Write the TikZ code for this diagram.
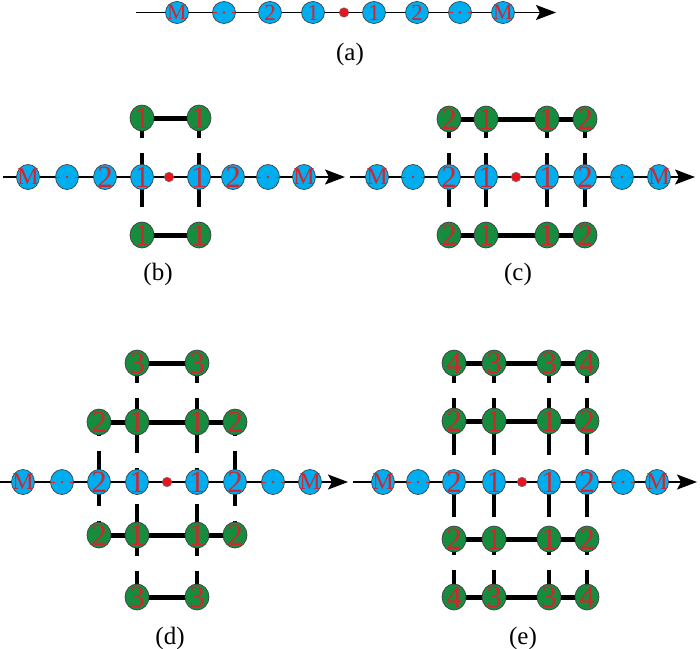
\documentclass[tikz,border=0pt]{standalone}
\usepackage{fontspec}
\usepackage{graphicx}
\setmainfont{Liberation Serif}
\usetikzlibrary{shapes.geometric,arrows.meta,backgrounds,calc}
\definecolor{cyanb}{RGB}{0,174,239}
\definecolor{greeng}{RGB}{22,140,62}
\definecolor{redt}{RGB}{215,35,45}
\definecolor{dotred}{RGB}{235,20,30}
\newcommand\Mlet{\scalebox{1.0}[1]{M}}
\tikzset{
  bnode/.style={ellipse, draw=black!75, line width=0.7pt, fill=cyanb,
    minimum width=23pt, minimum height=25pt, inner sep=0pt},
  gnode/.style={bnode, fill=greeng, minimum width=24pt, minimum height=26pt},
  dnode/.style={bnode, path picture={
    \fill[redt] (path picture bounding box.center) circle (1.4pt);
    \draw[redt, line width=1pt] (path picture bounding box.west) -- ++(4pt,0);
    \draw[redt, line width=1pt] (path picture bounding box.east) -- ++(-4pt,0);}},
  dig/.style={text=redt, font=\rmfamily\fontsize{31}{31}\selectfont, inner sep=0pt},
  mlet/.style={text=redt, font=\rmfamily\fontsize{24}{24}\selectfont, inner sep=0pt},
  rdot/.style={circle, draw=black!60, line width=0.5pt, fill=dotred,
    minimum size=9.5pt, inner sep=0pt},
  axisline/.style={line width=1.2pt, -{Stealth[length=20pt,width=15pt,inset=4pt]}},
  hbar/.style={line width=5pt},
  vbar/.style={line width=4pt},
  lab/.style={font=\rmfamily\fontsize{25}{25}\selectfont, inner sep=0pt},
  flat/.style={bnode/.append style={minimum height=22pt},
    dig/.append style={font=\rmfamily\fontsize{23}{23}\selectfont},
    mlet/.append style={font=\rmfamily\fontsize{22}{22}\selectfont}}
}
% axis row: #1 prefix, #2 y, #3 start x, #4 tip x, #5 nine x positions
\newcommand\axrow[5]{%
  \foreach \xx [count=\i] in {#5}{%
    \ifcase\i\or
      \node[bnode,label={[mlet]center:\Mlet}] (#1\i) at (\xx,#2) {};\or
      \node[dnode] (#1\i) at (\xx,#2) {};\or
      \node[bnode,label={[dig]center:2}] (#1\i) at (\xx,#2) {};\or
      \node[bnode,label={[dig]center:1}] (#1\i) at (\xx,#2) {};\or
      \node[rdot] (#1\i) at (\xx,#2) {};\or
      \node[bnode,label={[dig]center:1}] (#1\i) at (\xx,#2) {};\or
      \node[bnode,label={[dig]center:2}] (#1\i) at (\xx,#2) {};\or
      \node[dnode] (#1\i) at (\xx,#2) {};\or
      \node[bnode,label={[mlet]center:\Mlet}] (#1\i) at (\xx,#2) {};\fi}%
  \coordinate (#1s) at (#3,#2);
  \coordinate (#1t) at (#4,#2);
  \begin{scope}[on background layer]\draw[axisline] (#1s) -- (#1t);\end{scope}%
}
\newcommand\gn[4]{\node[gnode,label={[dig]center:#4}] (#1) at (#2,#3) {};}
\newcommand\hc[2]{\begin{scope}[on background layer]\draw[hbar] (#1.center) -- (#2.center);\end{scope}}
\newcommand\vc[3]{\begin{scope}[on background layer]
  \draw[vbar,shorten >=7.5pt] (#1.center) -- ($(#1.center)!#3!(#2.center)$);
  \draw[vbar,shorten >=7.5pt] (#2.center) -- ($(#1.center)!#3!(#2.center)$);
  \end{scope}}
\begin{document}
\begin{tikzpicture}[x=1pt,y=-1pt]
\useasboundingbox (0,0) rectangle (700,648);
% (a)
\begin{scope}[flat]
\axrow{a}{12.5}{136}{556}{177,224,270,313,344,374,417,460,503}
\end{scope}
\node[lab] (la) at (350,54) {(a)};
% (b)
\axrow{b}{177}{3}{345}{28,67,105,142,169,199,233,268,304}
\gn{bt1}{142}{118}{1}\gn{bt2}{199}{118}{1}
\gn{bb1}{142}{235}{1}\gn{bb2}{199}{235}{1}
\hc{bt1}{bt2}\hc{bb1}{bb2}
\vc{bt1}{b4}{0.46}\vc{bt2}{b6}{0.46}
\vc{b4}{bb1}{0.65}\vc{b6}{bb2}{0.65}
\node[lab] (lb) at (158,274) {(b)};
% (c)
\axrow{c}{177}{350}{695}{377,413,449,486,516,547,585,622,659}
\gn{ct1}{449}{119}{2}\gn{ct2}{486}{119}{1}\gn{ct3}{547}{119}{1}\gn{ct4}{585}{119}{2}
\gn{cb1}{449}{235}{2}\gn{cb2}{486}{235}{1}\gn{cb3}{547}{235}{1}\gn{cb4}{585}{235}{2}
\hc{ct1}{ct2}\hc{ct2}{ct3}\hc{ct3}{ct4}
\hc{cb1}{cb2}\hc{cb2}{cb3}\hc{cb3}{cb4}
\vc{ct1}{c3}{0.46}\vc{ct2}{c4}{0.46}\vc{ct3}{c6}{0.46}\vc{ct4}{c7}{0.46}
\vc{c3}{cb1}{0.65}\vc{c4}{cb2}{0.65}\vc{c6}{cb3}{0.65}\vc{c7}{cb4}{0.65}
\node[lab] (lc) at (518,274) {(c)};
% (d)
\axrow{d}{482}{0}{348}{23,62,99,137,167,197,235,273,310}
\gn{dA1}{137}{363}{3}\gn{dA2}{197}{363}{3}
\gn{dB1}{99}{422}{2}\gn{dB2}{137}{422}{1}\gn{dB3}{197}{422}{1}\gn{dB4}{235}{422}{2}
\gn{dC1}{99}{535}{2}\gn{dC2}{137}{535}{1}\gn{dC3}{197}{535}{1}\gn{dC4}{235}{535}{2}
\gn{dD1}{137}{597}{3}\gn{dD2}{197}{597}{3}
\hc{dA1}{dA2}\hc{dD1}{dD2}
\hc{dB1}{dB2}\hc{dB2}{dB3}\hc{dB3}{dB4}
\hc{dC1}{dC2}\hc{dC2}{dC3}\hc{dC3}{dC4}
\vc{dA1}{dB2}{0.46}\vc{dA2}{dB3}{0.46}
\vc{dB1}{d3}{0.36}\vc{dB2}{d4}{0.64}\vc{dB3}{d6}{0.64}\vc{dB4}{d7}{0.36}
\vc{d3}{dC1}{0.6}\vc{d4}{dC2}{0.28}\vc{d6}{dC3}{0.28}\vc{d7}{dC4}{0.6}
\vc{dC2}{dD1}{0.46}\vc{dC3}{dD2}{0.46}
\node[lab] (ld) at (170,638) {(d)};
% (e)
\axrow{e}{482}{353}{697}{383,418,454,494,522,549,587,623,657}
\gn{eA1}{454}{363}{4}\gn{eA2}{494}{363}{3}\gn{eA3}{549}{363}{3}\gn{eA4}{587}{363}{4}
\gn{eB1}{454}{421}{2}\gn{eB2}{494}{421}{1}\gn{eB3}{549}{421}{1}\gn{eB4}{587}{421}{2}
\gn{eC1}{454}{539}{2}\gn{eC2}{494}{539}{1}\gn{eC3}{549}{539}{1}\gn{eC4}{587}{539}{2}
\gn{eD1}{454}{597}{4}\gn{eD2}{494}{597}{3}\gn{eD3}{549}{597}{3}\gn{eD4}{587}{597}{4}
\hc{eA1}{eA2}\hc{eA2}{eA3}\hc{eA3}{eA4}
\hc{eB1}{eB2}\hc{eB2}{eB3}\hc{eB3}{eB4}
\hc{eC1}{eC2}\hc{eC2}{eC3}\hc{eC3}{eC4}
\hc{eD1}{eD2}\hc{eD2}{eD3}\hc{eD3}{eD4}
\vc{eA1}{eB1}{0.47}\vc{eA2}{eB2}{0.47}\vc{eA3}{eB3}{0.47}\vc{eA4}{eB4}{0.47}
\vc{eB1}{e3}{0.68}\vc{eB2}{e4}{0.68}\vc{eB3}{e6}{0.68}\vc{eB4}{e7}{0.68}
\vc{e3}{eC1}{0.74}\vc{e4}{eC2}{0.74}\vc{e6}{eC3}{0.74}\vc{e7}{eC4}{0.74}
\vc{eC1}{eD1}{0.41}\vc{eC2}{eD2}{0.41}\vc{eC3}{eD3}{0.41}\vc{eC4}{eD4}{0.41}
\node[lab] (le) at (523,638) {(e)};
\end{tikzpicture}
\end{document}
